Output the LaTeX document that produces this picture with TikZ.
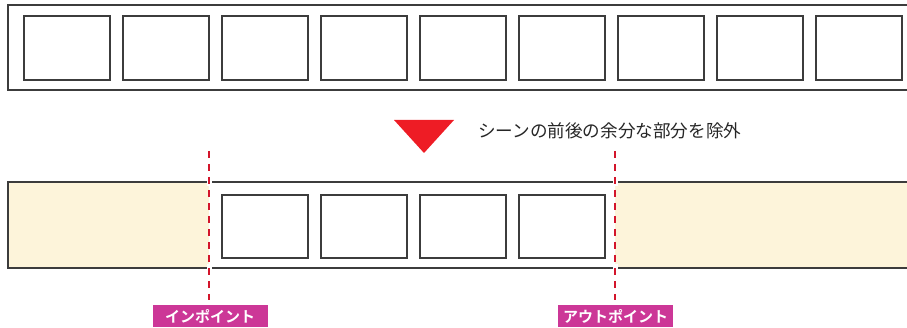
\documentclass[tikz,border=0pt]{standalone}
\usepackage{fontspec}
\newfontfamily\cjk{Noto Sans CJK JP}
\newfontfamily\cjkb{Noto Sans CJK JP Bold}
\definecolor{framegray}{HTML}{3C3C3C}
\definecolor{cream}{HTML}{FDF4DA}
\definecolor{cutred}{HTML}{D3152B}
\definecolor{trired}{HTML}{EE1C25}
\definecolor{tagmag}{HTML}{CC3797}
\tikzset{
  frm/.style={draw=framegray, line width=1.6pt, fill=white},
  strip/.style={draw=framegray, line width=1.6pt},
  cutline/.style={draw=cutred, line width=1.8pt, dash pattern=on 7pt off 6pt},
  halo/.style={draw=white, line width=5pt},
  tag/.style={fill=tagmag, text=white, font=\cjkb\fontsize{15}{17}\selectfont, inner sep=0pt, minimum height=22pt, anchor=north},
}
\begin{document}
\begin{tikzpicture}[x=1pt,y=-1pt]
\useasboundingbox (0,0) rectangle (907,328);
% top strip
\draw[strip] (910,5) -- (8,5) -- (8,90) -- (910,90);
\foreach \i in {0,...,8}{
  \node[frm, minimum width=86pt, minimum height=64pt, anchor=north west, inner sep=0pt] (t\i) at (23+99*\i,15) {};
}
% arrow triangle and caption
\fill[trired] (394,120) -- (454,120) -- (424,153) -- cycle;
\node[font=\cjk\fontsize{17.6}{19}\selectfont, text=black!85, anchor=west, inner sep=0pt] (cap) at (478,131) {シーンの前後の余分な部分を除外};
% bottom strip
\fill[cream] (8,182) rectangle (209,268);
\fill[cream] (615,182) rectangle (910,268);
\draw[strip] (910,182) -- (8,182) -- (8,268) -- (910,268);
\foreach \i in {0,...,3}{
  \node[frm, minimum width=86pt, minimum height=63pt, anchor=north west, inner sep=0pt] (b\i) at (221+99*\i,194) {};
}
% cut points
\coordinate (inT) at (209,151);
\coordinate (inB) at (209,300);
\coordinate (outT) at (615,151);
\coordinate (outB) at (615,300);
\draw[halo] (209,178) -- (209,186);
\draw[halo] (209,264) -- (209,272);
\draw[halo] (615,178) -- (615,186);
\draw[halo] (615,264) -- (615,272);
\draw[cutline] (inT) -- (inB);
\draw[cutline] (outT) -- (outB);
\node[tag, minimum width=115pt] (inlab) at (210,305) {インポイント};
\node[tag, minimum width=115pt] (outlab) at (615.5,305) {アウトポイント};
\end{tikzpicture}
\end{document}
